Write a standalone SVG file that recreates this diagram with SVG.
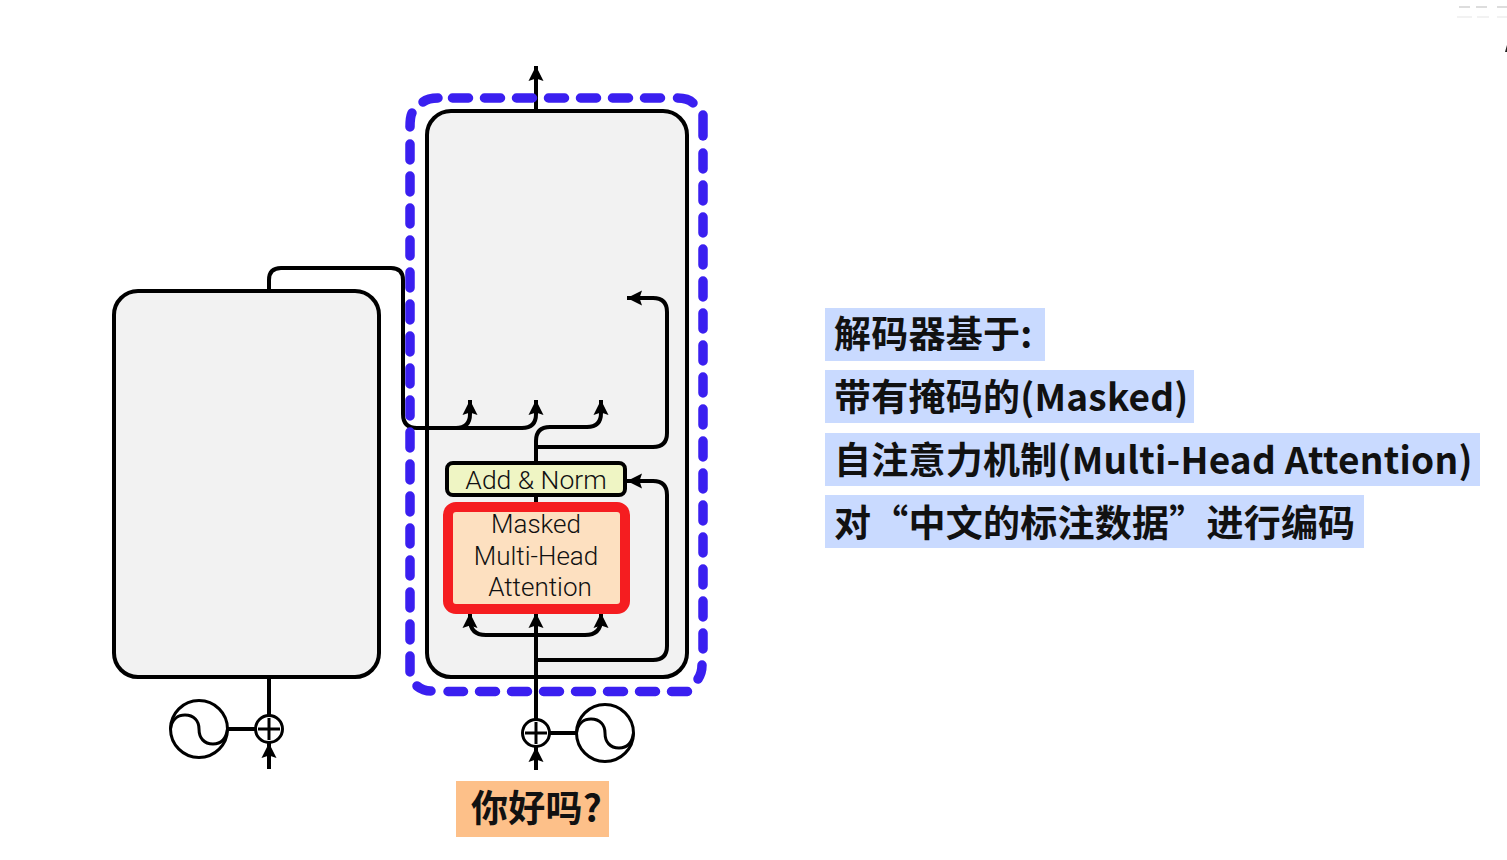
<svg xmlns="http://www.w3.org/2000/svg" width="1507" height="860" viewBox="0 0 1507 860">
<style>
.box{fill:#f2f2f2;stroke:#000;stroke-width:4}
.wire{fill:none;stroke:#000;stroke-width:4}
.arr{marker-end:url(#head)}
.thin{fill:none;stroke:#000;stroke-width:3}
.dash{fill:none;stroke:#3a1ff0;stroke-width:9.5;stroke-linecap:round}
.dd{stroke-dasharray:16 16}
.lbl{font-family:"Roboto","Liberation Sans",sans-serif;font-weight:300;font-size:26px;fill:#111;text-anchor:middle}
.cn{font-family:"Noto Sans CJK SC","Noto Sans",sans-serif;font-weight:700;font-size:37px;letter-spacing:.24px;fill:#111}
.hl{fill:#c9daff}
</style>
<defs>
<marker id="head" markerUnits="userSpaceOnUse" markerWidth="18" markerHeight="18" refX="16" refY="9" orient="auto">
<path d="M16,9 L1,1.5 L3.5,9 L1,16.5 Z" fill="#000"/>
</marker>
</defs>
<rect width="1507" height="860" fill="#fff"/>
<g id="artefacts">
<path d="M1459,7H1470M1476,7H1487M1497,7H1507" stroke="#ddd" stroke-width="2" fill="none"/>
<path d="M1457,17H1472M1477,17H1489M1497,17H1507" stroke="#eee" stroke-width="1.5" fill="none"/>
<path d="M1505,52L1507,45V52Z" fill="#222"/>
</g>
<g id="encoder"><rect class="box" x="114" y="291" width="265" height="386" rx="24"/></g>
<g id="decoder"><rect class="box" x="427" y="111" width="260" height="566" rx="24"/></g>
<g id="add-norm">
<rect x="447" y="463" width="178" height="32" rx="6" fill="#eff5c4" stroke="#000" stroke-width="4"/>
<text class="lbl" x="536" y="489" style="font-size:26.5px">Add &amp; Norm</text>
</g>
<g id="connectors">
<path class="wire arr" d="M536,111V66"/>
<path class="wire" d="M269,292V280Q269,268 281,268H391Q403,268 403,280V414Q403,428 417,428H456"/>
<path class="wire arr" d="M456,428Q470,428 470,414V400"/>
<path class="wire arr" d="M456,428H522Q536,428 536,414V400"/>
<path class="wire arr" d="M536,463V441Q536,427 550,427H587Q601,427 601,413V400"/>
<path class="wire arr" d="M536,447H653Q667,447 667,433V312Q667,298 653,298H627"/>
<path class="wire" d="M536,497V504"/>
<path class="wire arr" d="M536,660H653Q667,660 667,646V495Q667,481 653,481H627"/>
<path class="wire arr" d="M536,720V613"/>
<path class="wire arr" d="M536,635H486Q470,635 470,619V613"/>
<path class="wire arr" d="M536,635H585Q601,635 601,619V613"/>
<path class="wire" d="M269,677V716M228,729H255M549,733H576"/>
<path class="wire arr" d="M269,769V743"/>
<path class="wire arr" d="M536,770V747"/>
</g>
<g id="masked-attention">
<rect x="448" y="507" width="177" height="102" rx="8" fill="#fde0c0" stroke="#f51d20" stroke-width="10"/>
<text class="lbl" x="536" y="533">Masked</text>
<text class="lbl" x="536" y="565">Multi-Head</text>
<text class="lbl" x="540" y="596">Attention</text>
</g>
<g id="decoder-highlight">
<path class="dash" d="M423,102Q428,98 438,98"/>
<path class="dash dd" d="M452.5,98H668"/>
<path class="dash" d="M677.5,98Q688,98 693,103"/>
<path class="dash" d="M703,115V136"/>
<path class="dash dd" d="M703,153V652"/>
<path class="dash" d="M702,665Q702,673 698,679"/>
<path class="dash dd" d="M687.5,691.5H448"/>
<path class="dash" d="M431,691Q423,691 417,686"/>
<path class="dash dd" d="M410,672V143.5"/>
<path class="dash" d="M410,127Q410,117 412,113"/>
</g>
<g id="pos-encoding-left">
<circle cx="269" cy="729" r="13.5" fill="#fff" stroke="#000" stroke-width="3"/>
<path class="thin" d="M258,729H280M269,718V740" stroke-width="2.5"/>
<circle class="thin" cx="199" cy="729" r="28.5"/>
<path class="thin" d="M170.5,729C172,718 179,715 185,715C194,715 199,721 199,729C199,738 204,744 213,744C220,744 226,740 227.5,729"/>
</g>
<g id="pos-encoding-right">
<circle cx="536" cy="733" r="13.5" fill="#fff" stroke="#000" stroke-width="3"/>
<path class="thin" d="M525,733H547M536,722V744" stroke-width="2.5"/>
<circle class="thin" cx="605" cy="733" r="28.5"/>
<path class="thin" d="M576.5,733C578,722 585,719 591,719C600,719 605,725 605,733C605,742 610,748 619,748C626,748 632,744 633.5,733"/>
</g>
<g id="input-label">
<rect x="456" y="781" width="153" height="56" fill="#fdc089"/>
<text class="cn" x="471" y="822">你好吗?</text>
</g>
<g id="notes">
<rect class="hl" x="825" y="308" width="220" height="53"/>
<rect class="hl" x="825" y="370" width="369" height="53"/>
<rect class="hl" x="825" y="433" width="655" height="53"/>
<rect class="hl" x="825" y="495" width="539" height="53"/>
<text class="cn" x="834" y="348">解码器基于:</text>
<text class="cn" x="834" y="411">带有掩码的(Masked)</text>
<text class="cn" x="834" y="474">自注意力机制(Multi-Head Attention)</text>
<text class="cn" x="834" y="537">对“中文的标注数据”进行编码</text>
</g>
</svg>
